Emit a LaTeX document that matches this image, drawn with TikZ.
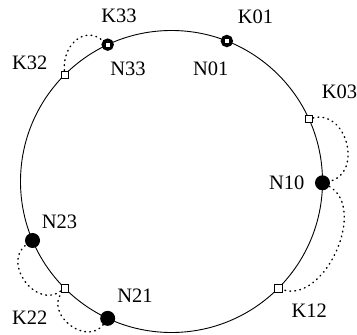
\documentclass[tikz,border=0pt]{standalone}
\usepackage{fontspec}
\setmainfont{Liberation Serif}
\begin{document}
\begin{tikzpicture}[x=1pt,y=1pt,
  ring/.style={line width=0.9pt},
  keybox/.style={draw, fill=white, rectangle, minimum size=7.5pt, inner sep=0pt, line width=0.8pt},
  peer/.style={circle, fill=black, minimum size=15pt, inner sep=0pt},
  peerkey/.style={circle, draw, fill=white, line width=3pt, minimum size=9.3pt, inner sep=0pt},
  innerkey/.style={draw, fill=white, rectangle, minimum size=5.2pt, inner sep=0pt, line width=0.7pt},
  lookup/.style={line width=1.4pt, dash pattern=on 0.8pt off 4.2pt, line cap=round},
  tag/.style={inner sep=0pt, font=\fontsize{20.5}{24}\selectfont}
]
\useasboundingbox (0,0) rectangle (357,335);

% the identifier ring
\draw[ring] (171.5,153.5) circle (151);

% peers and keys placed on the ring
\begin{scope}[shift={(171.5,153.5)}]
  \node[keybox]  (k32) at (135:151) {};
  \node[peerkey] (n33) at (115:151) {};
  \node[innerkey] (k33) at (n33) {};
  \node[peerkey] (n01) at (68.5:151) {};
  \node[innerkey] (k01) at (n01) {};
  \node[keybox]  (k03) at (24.5:151) {};
  \node[peer]    (n10) at (-0.5:151) {};
  \node[keybox]  (k12) at (-45:151) {};
  \node[peer]    (n21) at (-115:151) {};
  \node[keybox]  (k22) at (-135:151) {};
  \node[peer]    (n23) at (-157:151) {};
\end{scope}

% key-to-peer assignments
\draw[lookup] (k32) to[out=95, in=140, looseness=1.3] (n33);
\draw[lookup] (k03) to[bend left=90, looseness=1.35] (n10);
\draw[lookup] (n10) to[bend left=85, looseness=1.0] (k12);
\draw[lookup] (k22) to[bend left=90, looseness=1.35] (n23);
\draw[lookup] (n21) to[bend left=90, looseness=1.35] (k22);

% labels
\node[tag] (lk33) at (119,319.5) {K33};
\node[tag] (ln33) at (128,266.2) {N33};
\node[tag] (lk32) at (29.7,272) {K32};
\node[tag] (lk01) at (255.5,318.7) {K01};
\node[tag] (ln01) at (210.8,266.2) {N01};
\node[tag] (lk03) at (339.5,242.8) {K03};
\node[tag] (ln10) at (286.7,152.5) {N10};
\node[tag] (lk12) at (309.2,24.2) {K12};
\node[tag] (ln23) at (59.5,113.3) {N23};
\node[tag] (lk22) at (29.7,17.5) {K22};
\node[tag] (ln21) at (135,39.2) {N21};
\end{tikzpicture}
\end{document}
